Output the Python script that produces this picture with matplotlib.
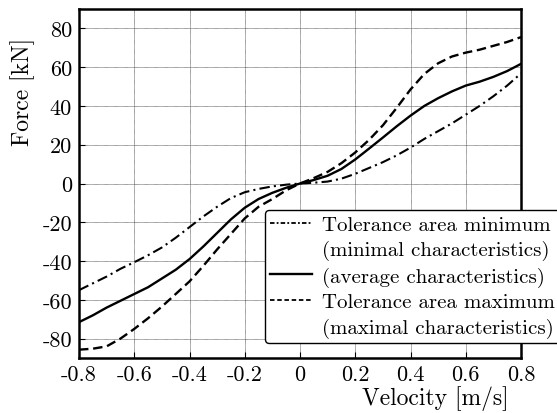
import matplotlib
matplotlib.use("Agg")
import matplotlib.pyplot as plt
from matplotlib.lines import Line2D

plt.rcParams['font.family'] = ['cmr10', 'DejaVu Serif']
plt.rcParams['axes.unicode_minus'] = False
plt.rcParams['mathtext.fontset'] = 'cm'

velocity = [-0.8, -0.75, -0.7, -0.65, -0.6, -0.55, -0.5, -0.45, -0.4, -0.35, -0.3,
            -0.25, -0.2, -0.15, -0.1, -0.05, 0.0, 0.05, 0.1, 0.15, 0.2, 0.25, 0.3,
            0.35, 0.4, 0.45, 0.5, 0.55, 0.6, 0.65, 0.7, 0.75, 0.8]

force_min = [-55, -51.5, -48, -44, -40.6, -37, -33, -28, -22.5, -17, -12,
             -7.5, -4.5, -2.8, -1.5, -0.6, 0, 0.4, 1, 2.5, 5, 8, 11,
             14.5, 18.5, 23, 27, 31, 35.5, 40, 45, 50.5, 56.8]

force_avg = [-71.5, -68, -64, -60.5, -57, -53.5, -49, -44.5, -39, -32.5, -25.5,
             -18.5, -12.5, -8, -4.8, -2.2, 0, 1.8, 4, 7.5, 12.4, 18, 23.7,
             29.5, 35, 40, 44, 47.5, 50.5, 52.5, 55, 58, 61.7]

force_max = [-85.7, -85.2, -84, -80, -75, -69.5, -63.5, -57, -50.5, -42.5, -34,
             -26, -18, -12, -8, -3.5, 0, 2.8, 6, 10.5, 16, 22.5, 30,
             39, 48.5, 56.5, 62, 65.5, 67.5, 69, 71, 73, 75.5]

legend_lines = ["Tolerance area minimum",
                "(minimal characteristics)",
                "(average characteristics)",
                "Tolerance area maximum",
                "(maximal characteristics)"]

xticks = [-0.8, -0.6, -0.4, -0.2, 0, 0.2, 0.4, 0.6, 0.8]
xticklabels = ["-0.8", "-0.6", "-0.4", "-0.2", "0", "0.2", "0.4", "0.6", "0.8"]
yticks = [-80, -60, -40, -20, 0, 20, 40, 60, 80]
yticklabels = ["-80", "-60", "-40", "-20", "0", "20", "40", "60", "80"]

fig = plt.figure(figsize=(5.57, 4.14), dpi=100)
ax = fig.add_axes([79/557, 1-359/414, (521-79)/557, (359-10)/414])

dashdot = (0, (5, 2, 1, 2))
dashed = (0, (4, 2))
l1, = ax.plot(velocity, force_min, color='black', lw=1.5, linestyle=dashdot)
l2, = ax.plot(velocity, force_avg, color='black', lw=1.7, linestyle='-')
l3, = ax.plot(velocity, force_max, color='black', lw=1.7, linestyle=dashed)

ax.set_xlim(-0.8, 0.8)
ax.set_ylim(-90, 90)
ax.set_xticks(xticks)
ax.set_xticklabels(xticklabels)
ax.set_yticks(yticks)
ax.set_yticklabels(yticklabels)
ax.tick_params(direction='in', length=4, width=0.8, labelsize=16, pad=5)
ax.grid(True, color='#444444', linewidth=0.5, linestyle=(0, (1, 0.6)))
for s in ax.spines.values():
    s.set_linewidth(1.8)

ax.set_xlabel("Velocity [m/s]", fontsize=17)
ax.xaxis.set_label_coords((435 - 79) / (521 - 79), -0.078)
ax.set_ylabel("Force [kN]", fontsize=17)
ax.yaxis.set_label_coords(-(79 - 35) / (521 - 79), (359 - 92) / 349)

blank = Line2D([], [], linestyle='none')
h1 = Line2D([], [], color='black', lw=1.3, linestyle=(0, (2.5, 1.2, 1, 1.2)))
h2 = Line2D([], [], color='black', lw=1.7, linestyle='-')
h3 = Line2D([], [], color='black', lw=1.3, linestyle=(0, (2.5, 1.5)))

leg = fig.legend([h1, blank, h2, h3, blank], legend_lines, loc='upper left',
                 bbox_to_anchor=(265/557, 1-211/414), borderaxespad=0,
                 fontsize=15, frameon=True, fancybox=True, handlelength=2.0,
                 handletextpad=0.5, labelspacing=0.3, borderpad=0.25)
fr = leg.get_frame()
fr.set_edgecolor('black')
fr.set_linewidth(1.0)
fr.set_alpha(1)

fig.savefig("out.png", dpi=100)
